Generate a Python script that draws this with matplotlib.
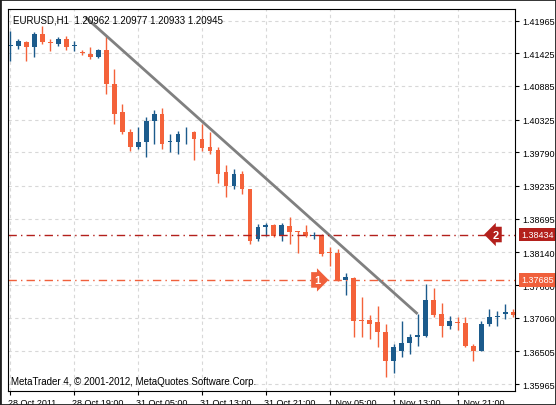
import matplotlib
matplotlib.use("Agg")
import matplotlib.pyplot as plt
import matplotlib.transforms as mtransforms

plt.rcParams['font.family'] = ['Liberation Sans', 'DejaVu Sans']

# hourly candles, EURUSD H1
opens = [1.41545, 1.41545, 1.41611, 1.41528, 1.41743, 1.41611, 1.41578, 1.41660,
         1.41545, 1.41446, 1.41413, 1.41363, 1.41479, 1.40918, 1.40455, 1.40125,
         1.39878, 1.39960, 1.40307, 1.40423, 1.39960, 1.39960, 1.40101, 1.40125,
         1.40010, 1.39878, 1.39829, 1.39466, 1.39235, 1.39433, 1.39185, 1.38360,
         1.38558, 1.38591, 1.38410, 1.38575, 1.38492, 1.38475, 1.38410, 1.38426,
         1.38146, 1.38129, 1.37684, 1.37717, 1.37024, 1.37024, 1.36991, 1.36826,
         1.36347, 1.36512, 1.36644, 1.36743, 1.36760, 1.37355, 1.37123, 1.36925,
         1.36991, 1.36974, 1.36595, 1.36512, 1.36958, 1.37073, 1.37123, 1.37156]
closes = [1.41561, 1.41627, 1.41528, 1.41743, 1.41611, 1.41594, 1.41660, 1.41528,
          1.41561, 1.41429, 1.41363, 1.41479, 1.40918, 1.40423, 1.40125, 1.39878,
          1.39960, 1.40307, 1.40423, 1.39927, 1.39977, 1.40093, 1.40109, 1.40010,
          1.39862, 1.39812, 1.39433, 1.39235, 1.39433, 1.39185, 1.38327, 1.38558,
          1.38591, 1.38410, 1.38591, 1.38475, 1.38475, 1.38410, 1.38426, 1.38113,
          1.38129, 1.37684, 1.37733, 1.37007, 1.37007, 1.36958, 1.36826, 1.36347,
          1.36578, 1.36644, 1.36743, 1.36776, 1.37355, 1.37106, 1.36925, 1.37007,
          1.36974, 1.36595, 1.36512, 1.36958, 1.37073, 1.37090, 1.37156, 1.37106]
highs = [1.41792, 1.41660, 1.41627, 1.41776, 1.41875, 1.41660, 1.41693, 1.41710,
         1.41627, 1.41479, 1.41528, 1.41495, 1.41710, 1.41165, 1.40588, 1.40175,
         1.40208, 1.40373, 1.40489, 1.40522, 1.40093, 1.40142, 1.40208, 1.40142,
         1.40258, 1.40125, 1.39878, 1.39581, 1.39515, 1.39482, 1.39185, 1.38608,
         1.38624, 1.38608, 1.38624, 1.38723, 1.38492, 1.38591, 1.38475, 1.38443,
         1.38228, 1.38195, 1.37799, 1.37733, 1.37403, 1.37106, 1.37255, 1.36958,
         1.36628, 1.37007, 1.36793, 1.37123, 1.37618, 1.37552, 1.37304, 1.37090,
         1.37073, 1.37073, 1.36628, 1.37007, 1.37205, 1.37172, 1.37288, 1.37205]
lows = [1.41297, 1.41495, 1.41297, 1.41363, 1.41578, 1.41462, 1.41545, 1.41479,
        1.41462, 1.41396, 1.41330, 1.41347, 1.40752, 1.40258, 1.40093, 1.39812,
        1.39845, 1.39713, 1.39927, 1.39845, 1.39795, 1.39763, 1.39927, 1.39664,
        1.39812, 1.39763, 1.39284, 1.39053, 1.39185, 1.39102, 1.38278, 1.38327,
        1.38410, 1.38393, 1.38327, 1.38278, 1.38129, 1.38393, 1.38360, 1.38080,
        1.37915, 1.37667, 1.37436, 1.36743, 1.36743, 1.36710, 1.36578, 1.36083,
        1.36149, 1.36413, 1.36463, 1.36595, 1.36743, 1.37073, 1.36743, 1.36875,
        1.36859, 1.36578, 1.36347, 1.36512, 1.36925, 1.36925, 1.37040, 1.37073]

price_ticks = [1.41965, 1.41425, 1.40885, 1.40325, 1.39790, 1.39235,
               1.38695, 1.38140, 1.37600, 1.37060, 1.36505, 1.35965]
date_idx = [0, 8, 16, 24, 32, 40, 48, 56]
date_labels = ["28 Oct 2011", "28 Oct 19:00", "31 Oct 05:00", "31 Oct 13:00",
               "31 Oct 21:00", "1 Nov 05:00", "1 Nov 13:00", "1 Nov 21:00"]
trend_x = [9.4, 51]
trend_y = [1.4202, 1.37123]
level2 = 1.38434
level1 = 1.37685

bull = "#1c5b8c"
bear = "#f4623a"

fig = plt.figure(figsize=(5.56, 4.06), dpi=100)
fig.patch.set_facecolor("white")
ax = fig.add_axes([8/556, 1 - 392/406, 507/556, 382/406])
ax.set_xlim(-0.3, 63.2)
ax.set_ylim(1.35852, 1.42155)

for i in range(len(opens)):
    o, c = opens[i], closes[i]
    col = bull if c >= o else bear
    ax.vlines(i, lows[i], highs[i], color=col, lw=1)
    ax.bar(i, max(abs(c - o), 0.00004), bottom=min(o, c), width=0.6, color=col, lw=0)

ax.plot(trend_x, trend_y, color="#808080", lw=2, solid_capstyle="butt")

ax.axhline(level2, color="#b3201c", lw=1, ls=(0, (6, 3, 1, 3)))
ax.axhline(level1, color="#f0603c", lw=1, ls=(0, (6, 3, 1, 3)))
ax.text(60.8, level2, "2", color="white", fontsize=8, fontweight="bold", ha="center", va="center",
        bbox=dict(boxstyle="larrow,pad=0.25", fc="#b3201c", ec="none"))
ax.text(38.4, level1, "1", color="white", fontsize=8, fontweight="bold", ha="center", va="center",
        bbox=dict(boxstyle="rarrow,pad=0.25", fc="#f0603c", ec="none"))

ax.yaxis.tick_right()
ax.set_yticks(price_ticks)
ax.set_yticklabels(["%.5f" % p for p in price_ticks], fontsize=6.5)
ax.set_xticks(date_idx)
ax.set_xticklabels(date_labels, fontsize=6.5, ha="left")
ax.tick_params(length=3, width=0.8, pad=2)
offset = mtransforms.ScaledTranslation(-2/100, 0, fig.dpi_scale_trans)
for lbl in ax.get_xticklabels():
    lbl.set_transform(lbl.get_transform() + offset)
ax.grid(True, color="#d8d8d8", ls=(0, (3, 3)), lw=0.8)
ax.set_axisbelow(True)
for s in ax.spines.values():
    s.set_linewidth(0.8)

tr = mtransforms.blended_transform_factory(ax.transAxes, ax.transData)
for lvl, col in [(level2, "#b3201c"), (level1, "#f0603c")]:
    ax.text(1.012, lvl, "%.5f" % lvl, transform=tr, fontsize=6.5, color="white", va="center",
            zorder=10, bbox=dict(boxstyle="square,pad=0.25", fc=col, ec="none"))

ax.text(0.01, 0.985, "EURUSD,H1  1.20962 1.20977 1.20933 1.20945", transform=ax.transAxes,
        fontsize=7, va="top")
ax.text(0.005, 0.012, "MetaTrader 4, \u00a9 2001-2012, MetaQuotes Software Corp.",
        transform=ax.transAxes, fontsize=7, va="bottom")

fig.add_artist(plt.Rectangle((0, 0), 1, 1, transform=fig.transFigure, fill=False,
                             ec="#202020", lw=2))
fig.savefig("out.png", dpi=100)
